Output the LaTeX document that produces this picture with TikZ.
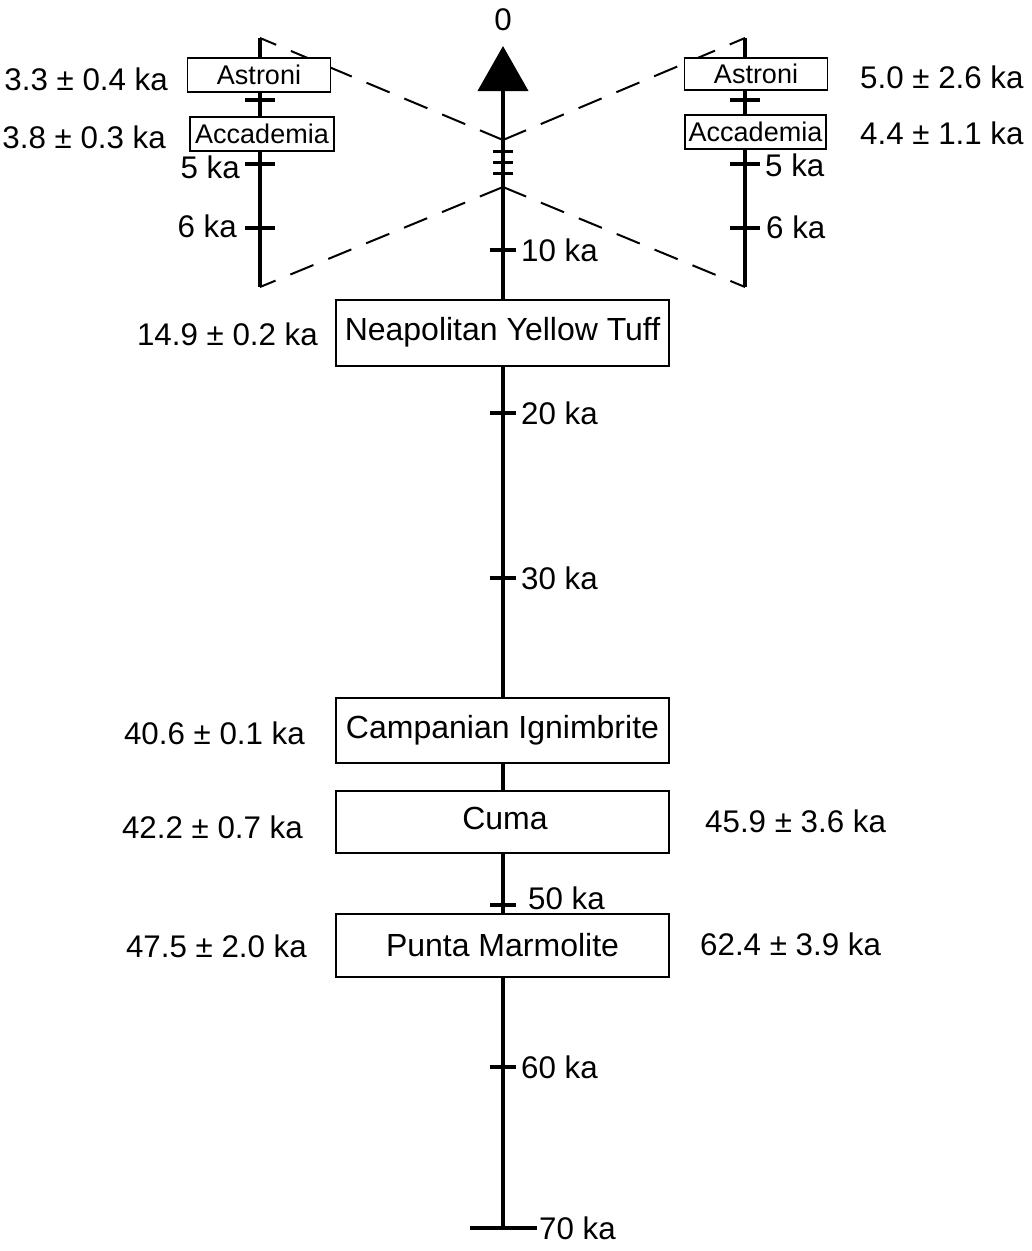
\documentclass[tikz,border=0pt]{standalone}
\usepackage{fontspec}
\setmainfont{Liberation Sans}
\usetikzlibrary{positioning,arrows.meta}

\begin{document}
\begin{tikzpicture}[
  x=1pt, y=-1pt,
  box/.style={draw, fill=white, line width=2pt, minimum width=333pt, minimum height=66pt, inner sep=0pt, font=\fontsize{32}{38}\selectfont},
  sbox/.style={draw, fill=white, line width=1.8pt, minimum width=143pt, minimum height=34pt, inner sep=0pt, font=\fontsize{27}{31}\selectfont},
  lab/.style={inner sep=0pt, font=\fontsize{31.3}{37}\selectfont},
  axisline/.style={line width=4pt},
  inset/.style={line width=3.5pt},
  dashline/.style={line width=2pt, dash pattern=on 25pt off 16pt}
]
\useasboundingbox (0,0) rectangle (1032,1251);

% apex points of the zoom lines
\coordinate (za) at (503,140);
\coordinate (zb) at (503,187);
\coordinate (ltop) at (260,38);
\coordinate (lbot) at (260,287);
\coordinate (rtop) at (745,38);
\coordinate (rbot) at (745,287);

\draw[dashline] (za) -- (ltop);
\draw[dashline] (za) -- (rtop);
\draw[dashline] (zb) -- (lbot);
\draw[dashline] (zb) -- (rbot);

% main axis
\coordinate (bot) at (503,1228);
\coordinate (tip) at (503,46);
\draw[axisline, -{Triangle[length=45pt, width=50pt]}] (bot) -- (tip);
\node[lab] (zero) at (503,20) {0};
\draw[axisline] (bot) ++(-33,0) -- ++(67,0);
\node[lab, anchor=west] (t70) at (539,1228) {70 ka};

\foreach \y in {151,162,173}
  \draw[line width=3pt] (503,\y) ++(-10,0) -- ++(20,0);

\foreach \y/\t in {250/10, 413/20, 578/30, 1067/60} {
  \draw[axisline, line width=3.5pt] (503,\y) ++(-13,0) -- ++(26,0);
  \node[lab, anchor=west] (t\t) at (521,\y) {\t\ ka};
}
\draw[axisline, line width=3.5pt] (503,905) ++(-13,0) -- ++(26,0);
\node[lab, anchor=west] (t50) at (528,898) {50 ka};

% insets
\draw[inset] (ltop) -- (lbot);
\draw[inset] (rtop) -- (rbot);
\foreach \y in {100,164,228} {
  \draw[inset, line width=3.5pt] (260,\y) ++(-15,0) -- ++(30,0);
  \draw[inset, line width=3.5pt] (745,\y) ++(-15,0) -- ++(30,0);
}
\node[sbox] (lastr) at (259,75) {Astroni};
\node[sbox, minimum width=144pt] (lacc) at (262,134) {Accademia};
\node[sbox, minimum height=32pt] (rastr) at (756,74) {Astroni};
\node[sbox, minimum width=141pt] (racc) at (755.5,132) {Accademia};

\node[lab, anchor=east] (lastrage) at (168,79) {3.3 ± 0.4 ka};
\node[lab, anchor=east] (laccage) at (166,137) {3.8 ± 0.3 ka};
\node[lab, anchor=east] (l5) at (240,167) {5 ka};
\node[lab, anchor=east] (l6) at (237,226) {6 ka};
\node[lab, anchor=west] (rastrage) at (860,77) {5.0 ± 2.6 ka};
\node[lab, anchor=west] (raccage) at (860,133) {4.4 ± 1.1 ka};
\node[lab, anchor=west] (r5) at (765,165) {5 ka};
\node[lab, anchor=west] (r6) at (766,227) {6 ka};

% eruptions on the main axis
\node[box] (nyt) at (502.5,332.5) {Neapolitan Yellow Tuff};
\node[box, minimum height=65pt] (ci) at (502.5,730.5) {Campanian Ignimbrite};
\node[box, minimum height=62pt] (cuma) at (502.5,822) {};
\node[lab, font=\fontsize{32}{38}\selectfont] (cumatxt) at (505,818) {Cuma};
\node[box, minimum height=63pt] (pm) at (502.5,945.5) {Punta Marmolite};

\node[lab, anchor=east] (nytage) at (318,334) {14.9 ± 0.2 ka};
\node[lab, anchor=east] (ciage) at (305,733) {40.6 ± 0.1 ka};
\node[lab, anchor=east] (cumaage) at (303,827) {42.2 ± 0.7 ka};
\node[lab, anchor=west] (cumaage2) at (705,821) {45.9 ± 3.6 ka};
\node[lab, anchor=east] (pmage) at (307,946) {47.5 ± 2.0 ka};
\node[lab, anchor=west] (pmage2) at (700,944) {62.4 ± 3.9 ka};
\end{tikzpicture}
\end{document}
